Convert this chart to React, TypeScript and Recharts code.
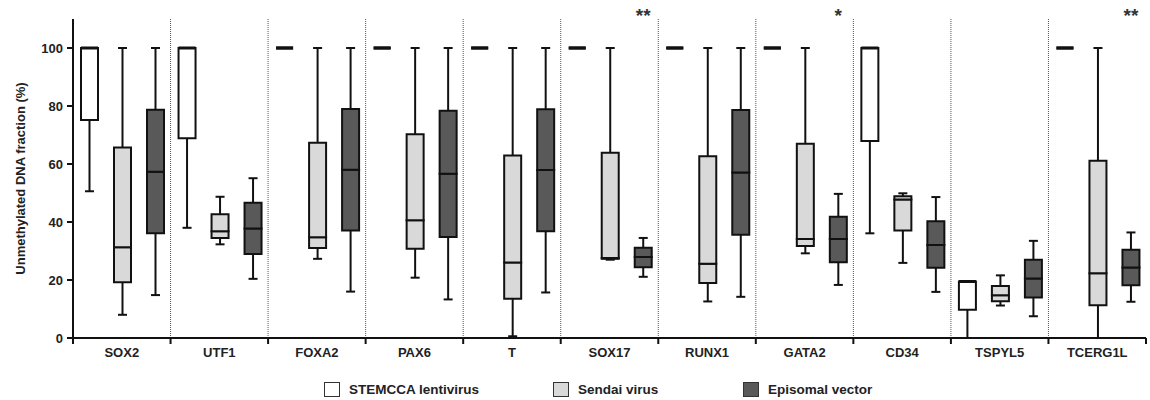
import { ComposedChart, Bar, XAxis, YAxis, ReferenceLine, Legend } from 'recharts';

const genes = ['SOX2', 'UTF1', 'FOXA2', 'PAX6', 'T', 'SOX17', 'RUNX1', 'GATA2', 'CD34', 'TSPYL5', 'TCERG1L'];

// significance marks over the episomal box
const stars = ['', '', '', '', '', '**', '', '*', '', '', '**'];

// [min, q1, median, q3, max] per gene
const stemccaBoxes = [
    [50.6, 75.2, 100, 100, 100],
    [38.0, 68.9, 100, 100, 100],
    [100, 100, 100, 100, 100],
    [100, 100, 100, 100, 100],
    [100, 100, 100, 100, 100],
    [100, 100, 100, 100, 100],
    [100, 100, 100, 100, 100],
    [100, 100, 100, 100, 100],
    [36.1, 67.9, 100, 100, 100],
    [0, 9.7, 19.5, 19.5, 19.5],
    [100, 100, 100, 100, 100],
];

const sendaiBoxes = [
    [8.0, 19.2, 31.3, 65.7, 100],
    [32.3, 34.5, 36.8, 42.7, 48.7],
    [27.3, 31.0, 34.7, 67.3, 100],
    [20.8, 30.8, 40.6, 70.3, 100],
    [0.6, 13.5, 26.0, 62.9, 100],
    [27.0, 27.3, 27.6, 63.9, 100],
    [12.6, 19.0, 25.6, 62.7, 100],
    [29.2, 31.7, 34.1, 67.0, 100],
    [25.9, 37.1, 47.8, 48.9, 49.9],
    [11.2, 12.7, 14.7, 17.9, 21.6],
    [0, 11.3, 22.3, 61.1, 100],
];

const episomalBoxes = [
    [14.8, 36.1, 57.3, 78.7, 100],
    [20.4, 29.0, 37.8, 46.6, 55.1],
    [16.0, 37.1, 58.0, 79.0, 100],
    [13.3, 34.8, 56.6, 78.4, 100],
    [15.7, 36.8, 57.9, 78.9, 100],
    [21.1, 24.4, 27.9, 31.1, 34.5],
    [14.2, 35.6, 57.1, 78.6, 100],
    [18.3, 26.1, 34.1, 41.8, 49.7],
    [15.9, 24.2, 32.1, 40.3, 48.6],
    [7.5, 14.0, 20.5, 27.0, 33.5],
    [12.5, 18.2, 24.3, 30.4, 36.4],
];

const yTicks = [0, 20, 40, 60, 80, 100];

const groups = [
    { key: 'stemcca', name: 'STEMCCA lentivirus', fill: '#ffffff', boxes: stemccaBoxes },
    { key: 'sendai', name: 'Sendai virus', fill: '#d9d9d9', boxes: sendaiBoxes },
    { key: 'episomal', name: 'Episomal vector', fill: '#595959', boxes: episomalBoxes },
];

// each box is a stack: hidden base, lower whisker, lower half, upper half, upper whisker
const chartData = genes.map((gene, i) => {
    const row: Record<string, any> = { gene, star: stars[i] };
    groups.forEach((g) => {
        const [min, q1, med, q3, max] = g.boxes[i];
        row[`${g.key}_base`] = min;
        row[`${g.key}_lw`] = q1 - min;
        row[`${g.key}_lb`] = med - q1;
        row[`${g.key}_ub`] = q3 - med;
        row[`${g.key}_uw`] = max - q3;
    });
    return row;
});

const FONT = '"Liberation Sans", Arial, sans-serif';
const W = 1150;
const H = 400;
const Y_AXIS_W = 73;
const MARGIN = { top: 19, right: 4, left: 0, bottom: 10 };
const BAND_HALF = (W - MARGIN.left - MARGIN.right - Y_AXIS_W) / genes.length / 2;
const BOX_W = 17;
const CAP_W = 9;
const INK = '#111';

const Empty = () => <g />;

const LowerWhisker = (props: any) => {
    const { x, y, width, height } = props;
    const cx = x + width / 2;
    const bottom = y + height;
    return (
        <g stroke={INK} strokeWidth={2}>
            <line x1={cx} x2={cx} y1={y} y2={bottom} />
            <line x1={cx - CAP_W / 2} x2={cx + CAP_W / 2} y1={bottom} y2={bottom} />
        </g>
    );
};

const makeUpperWhisker = (withStar: boolean) => (props: any) => {
    const { x, y, width, height, payload, background } = props;
    const cx = x + width / 2;
    const top = background ? background.y : 19;
    return (
        <g>
            <g stroke={INK} strokeWidth={2}>
                <line x1={cx} x2={cx} y1={y} y2={y + height} />
                <line x1={cx - CAP_W / 2} x2={cx + CAP_W / 2} y1={y} y2={y} />
            </g>
            {withStar && payload && payload.star ? (
                <text x={cx} y={top + 3} textAnchor="middle" fontFamily={FONT} fontSize={19} fontWeight="bold" fill="#333">
                    {payload.star}
                </text>
            ) : null}
        </g>
    );
};

const makeBoxHalf = (fill: string) => (props: any) => {
    const { x, y, width, height } = props;
    const left = x + width / 2 - BOX_W / 2;
    // a collapsed box (all values equal) shows as a heavier dash
    const flat = !height || Math.abs(height) < 0.5;
    return (
        <path
            d={`M${left},${y} h${BOX_W} v${height} h${-BOX_W} Z`}
            fill={fill}
            stroke={INK}
            strokeWidth={flat ? 3 : 2}
        />
    );
};

const GeneTick = (props: any) => {
    const { x, y, payload, index } = props;
    return (
        <g>
            <line x1={x - BAND_HALF} x2={x - BAND_HALF} y1={y} y2={y + 6} stroke={INK} strokeWidth={2} />
            {index === genes.length - 1 ? (
                <line x1={x + BAND_HALF} x2={x + BAND_HALF} y1={y} y2={y + 6} stroke={INK} strokeWidth={2} />
            ) : null}
            <text x={x} y={y + 18.5} textAnchor="middle" fontFamily={FONT} fontSize={13} fontWeight="bold" fill="#222">
                {payload.value}
            </text>
        </g>
    );
};

const legendWidths = [229, 190, 200];

const renderLegend = () => (
    <div
        style={{
            display: 'flex',
            alignItems: 'center',
            height: 22,
            paddingLeft: 324,
            fontFamily: FONT,
            fontSize: 13.5,
            fontWeight: 'bold',
            color: '#222',
        }}
    >
        {groups.map((g, i) => (
            <div key={g.key} style={{ display: 'flex', alignItems: 'center', width: legendWidths[i] }}>
                <span
                    style={{
                        display: 'inline-block',
                        boxSizing: 'border-box',
                        width: 16,
                        height: 15,
                        border: '1.5px solid #333',
                        background: g.fill,
                        marginRight: 9,
                    }}
                />
                {g.name}
            </div>
        ))}
    </div>
);

const BoxPlotChart = () => (
    <ComposedChart width={W} height={H} data={chartData} margin={MARGIN} barCategoryGap={0} barGap={0}>
        <XAxis
            dataKey="gene"
            interval={0}
            height={30}
            tickLine={false}
            tickSize={0}
            tickMargin={0}
            axisLine={{ stroke: INK, strokeWidth: 2 }}
            tick={<GeneTick />}
        />
        <YAxis
            width={Y_AXIS_W}
            domain={[0, 110]}
            ticks={yTicks}
            allowDecimals={false}
            tickSize={6}
            tickMargin={4}
            axisLine={{ stroke: INK, strokeWidth: 2 }}
            tickLine={{ stroke: INK, strokeWidth: 2 }}
            tick={{ fill: '#222', fontSize: 13, fontWeight: 'bold', fontFamily: FONT }}
            label={{
                value: 'Unmethylated DNA fraction (%)',
                angle: -90,
                position: 'insideLeft',
                offset: 20,
                style: { textAnchor: 'middle', fill: '#222', fontSize: 13, fontWeight: 'bold', fontFamily: FONT },
            }}
        />
        {genes.slice(1).map((g) => (
            <ReferenceLine key={g} x={g} position="start" stroke="#555" strokeWidth={1} strokeDasharray="1 1" />
        ))}
        {groups.map((g) => [
            <Bar key={`${g.key}_base`} dataKey={`${g.key}_base`} stackId={g.key} shape={<Empty />} isAnimationActive={false} legendType="none" />,
            <Bar key={`${g.key}_lw`} dataKey={`${g.key}_lw`} stackId={g.key} shape={LowerWhisker} isAnimationActive={false} legendType="none" />,
            <Bar key={`${g.key}_lb`} dataKey={`${g.key}_lb`} stackId={g.key} shape={makeBoxHalf(g.fill)} isAnimationActive={false} legendType="none" />,
            <Bar key={`${g.key}_ub`} dataKey={`${g.key}_ub`} stackId={g.key} shape={makeBoxHalf(g.fill)} isAnimationActive={false} legendType="none" />,
            <Bar key={`${g.key}_uw`} dataKey={`${g.key}_uw`} stackId={g.key} shape={makeUpperWhisker(g.key === 'episomal')} isAnimationActive={false} legendType="none" />,
        ])}
        <Legend content={renderLegend} verticalAlign="bottom" wrapperStyle={{ left: 0, bottom: 0, width: W }} />
    </ComposedChart>
);

export default function App() {
    return (
        <div style={{ position: 'absolute', left: 0, top: 0, width: W, height: H, background: '#fff' }}>
            <BoxPlotChart />
        </div>
    );
}
